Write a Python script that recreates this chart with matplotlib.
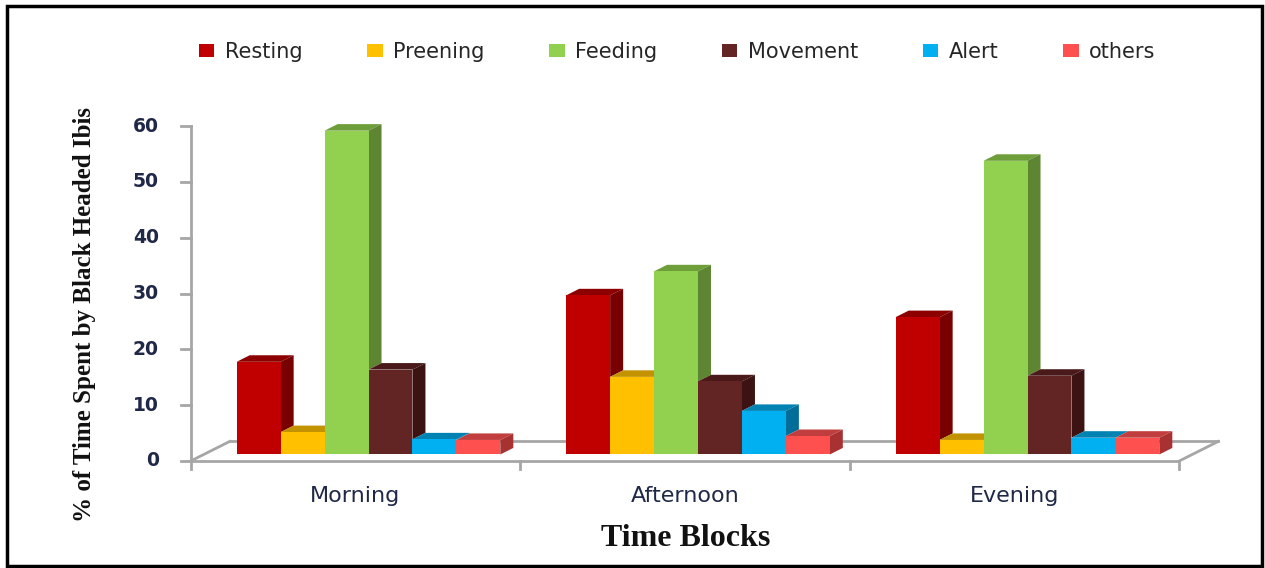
import matplotlib
matplotlib.use("Agg")
import matplotlib.pyplot as plt
from matplotlib.patches import Polygon, Rectangle, Patch

categories = ["Morning", "Afternoon", "Evening"]
series = ["Resting", "Preening", "Feeding", "Movement", "Alert", "others"]
morning = [16.6, 4.0, 58.0, 15.2, 2.7, 2.6]
afternoon = [28.5, 13.9, 32.8, 13.1, 7.8, 3.3]
evening = [24.6, 2.6, 52.6, 14.1, 3.0, 3.0]
yticks = [0, 10, 20, 30, 40, 50, 60]

front_c = ['#C00000', '#FFC000', '#92D050', '#632523', '#00B0F0', '#FF5050']
top_c = ['#8C0000', '#C39200', '#6E9E3A', '#4A1A1A', '#0082B3', '#C23E3E']
side_c = ['#780000', '#A67C00', '#5E8632', '#3C1212', '#006E99', '#A83232']

values = [morning, afternoon, evening]

W, H = 1265, 568
fig = plt.figure(figsize=(W / 100, H / 100), dpi=100)
ax = fig.add_axes([0, 0, 1, 1])
# data mapping: x category units (329.5 px each, Morning centre at px 368.5),
# y value units (5.583 px each, front zero at px 461 from top)
pxx, pxy = 329.5, 5.583
ax.set_xlim(-368.5 / pxx, (W - 368.5) / pxx)
ax.set_ylim((461 - H) / pxy, 461 / pxy)
ax.axis('off')

dx, dy = 0.0395, 1.17          # one depth step (oblique projection)
nser = len(series)
bw = 0.8 / nser
axis_col = '#A6A6A6'

# floor
xl_f, xr_f = -0.5 - dx, 2.5 - dx
ax.plot([xl_f, xr_f], [0, 0], color=axis_col, lw=2, zorder=1, solid_capstyle='butt')
ax.plot([xl_f + 3 * dx, xr_f + 3 * dx], [3 * dy, 3 * dy], color=axis_col, lw=2, zorder=1)
ax.plot([xl_f, xl_f + 3 * dx], [0, 3 * dy], color=axis_col, lw=2, zorder=1)
ax.plot([xr_f, xr_f + 3 * dx], [0, 3 * dy], color=axis_col, lw=2, zorder=1)
# y axis
ax.plot([xl_f, xl_f], [0, yticks[-1]], color=axis_col, lw=2, zorder=1)
for t in yticks:
    ax.plot([xl_f - 10 / pxx, xl_f], [t, t], color=axis_col, lw=2, zorder=1)
    ax.text(xl_f - 32 / pxx, t, str(t), ha='right', va='center', fontsize=13.5,
            fontweight='bold', color='#1F2847', family='DejaVu Sans')
# category ticks
for b in [-0.5, 0.5, 1.5, 2.5]:
    ax.plot([b - dx, b - dx], [0, -8 / pxy], color=axis_col, lw=2, zorder=1)
for i, c in enumerate(categories):
    ax.text(i - dx, -35 / pxy, c, ha='center', va='center', fontsize=16,
            color='#1F2847', family='DejaVu Sans')

# bars
for ci, vals in enumerate(values):
    lefts = [ci - 0.4 + k * bw for k in range(nser)]
    for k in range(nser):
        v = vals[k]
        xl = lefts[k]
        xr = xl + bw
        y0 = dy
        # top face
        ax.add_patch(Polygon([(xl, y0 + v), (xr, y0 + v), (xr + dx, y0 + dy + v),
                              (xl + dx, y0 + dy + v)], closed=True,
                             facecolor=top_c[k], edgecolor='none', zorder=2))
        # visible side face (above the next bar)
        h0 = vals[k + 1] if k + 1 < nser else 0
        if v > h0:
            ax.add_patch(Polygon([(xr, y0 + h0), (xr + dx, y0 + dy + h0),
                                  (xr + dx, y0 + dy + v), (xr, y0 + v)], closed=True,
                                 facecolor=side_c[k], edgecolor='none', zorder=2))
    ax.bar(lefts, vals, width=bw, bottom=dy, align='edge', color=front_c,
           edgecolor='none', zorder=3)

# axis titles
fig.text(85 / W, 1 - 315 / H, "% of Time Spent by Black Headed Ibis", rotation=90,
         ha='center', va='center', fontsize=18, fontweight='bold',
         family='Liberation Serif', color='#111111')
fig.text(686 / W, 1 - 538 / H, "Time Blocks", ha='center', va='center', fontsize=23,
         fontweight='bold', family='Liberation Serif', color='#111111')

# legend
handles = [Patch(facecolor=front_c[k], edgecolor='none', label=series[k]) for k in range(nser)]
fig.legend(handles=handles, loc='center', bbox_to_anchor=(677 / W, 1 - 52 / H), ncol=nser,
           frameon=False, handlelength=0.75, handleheight=0.55, handletextpad=0.5,
           columnspacing=3.1, prop={'family': 'DejaVu Sans', 'size': 15},
           labelcolor='#262626')

# outer border
fig.patches.append(Rectangle((7 / W, 1 - 566 / H), 1255 / W, 560 / H, transform=fig.transFigure,
                             fill=False, edgecolor='black', lw=2.5))

fig.savefig("out.png", dpi=100)
